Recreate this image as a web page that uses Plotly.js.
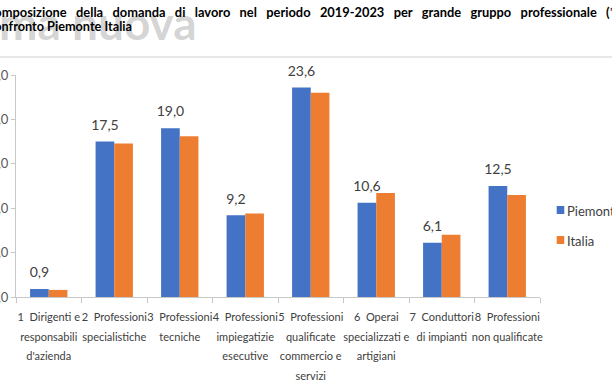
<!DOCTYPE html>
<html>
<head>
<meta charset="utf-8">
<script src="https://cdn.plot.ly/plotly-3.0.1.min.js"></script>
<style>html,body{margin:0;padding:0;background:#fff}#chart{width:612px;height:390px}</style>
</head>
<body>
<div id="chart"></div>
<script>
// ---- data ----
var categoryLines = [
  ["1\u00a0\u00a0Dirigenti e", "responsabili", "d'azienda"],
  ["2\u00a0\u00a0Professioni", "specialistiche"],
  ["3\u00a0\u00a0Professioni", "tecniche"],
  ["4\u00a0\u00a0Professioni", "impiegatizie", "esecutive"],
  ["5\u00a0\u00a0Professioni", "qualificate", "commercio e", "servizi"],
  ["6\u00a0\u00a0Operai", "specializzati e", "artigiani"],
  ["7\u00a0\u00a0Conduttori", "di impianti"],
  ["8\u00a0\u00a0Professioni", "non qualificate"]
];
var seriesNames = ["Piemonte", "Italia"];
var seriesColors = ["#4472C4", "#ED7D31"];
var piemonte = [0.9, 17.5, 19.0, 9.2, 23.6, 10.6, 6.1, 12.5];
var italia   = [0.8, 17.3, 18.1, 9.4, 23.0, 11.7, 7.0, 11.5];
var yTicks = [0, 5, 10, 15, 20, 25];
var titleLine1 = "Composizione della domanda di lavoro nel periodo 2019-2023 per grande gruppo professionale (*)";
var titleLine2 = "Confronto Piemonte Italia";
var watermark = "Prima nuova";

// ---- geometry helpers (plot area: x 16..540, y 75..297 px) ----
var ML = 16, MR = 72, MT = 75, MB = 93, W = 612, H = 390;
var PW = W - ML - MR, PH = H - MT - MB;
function px2x(px) { return (px - ML) / PW; }
function px2y(py) { return (H - MB - py) / PH; }

var FONT = "Lato, Liberation Sans, sans-serif";
var cats = categoryLines.map(function (l) { return l.join("<br>"); });
var tickText = categoryLines.map(function (l) {
  return l.map(function (s) { return '<span style="font-size:11px">' + s + '</span>'; }).join("<br>");
});

var traces = [
  {
    type: "bar", name: seriesNames[0], x: cats, y: piemonte,
    marker: {color: seriesColors[0]},
    texttemplate: '<span style="font-size:14px">%{y:.1f}</span><br>\u00a0',
    textposition: "outside", cliponaxis: false, constraintext: "none",
    textfont: {family: FONT, size: 6, color: "#404040"},
    hoverinfo: "skip"
  },
  {
    type: "bar", name: seriesNames[1], x: cats, y: italia,
    marker: {color: seriesColors[1]},
    hoverinfo: "skip"
  }
];

// legend drawn at the right edge like the original
var legendRows = [210, 240];
var legendShapes = seriesNames.map(function (n, i) {
  return {type: "rect", xref: "paper", yref: "paper",
    x0: px2x(556.7), x1: px2x(564.3), y0: px2y(legendRows[i] + 4), y1: px2y(legendRows[i] - 4),
    fillcolor: seriesColors[i], line: {width: 0}};
});
var legendTexts = seriesNames.map(function (n, i) {
  return {text: n, xref: "paper", yref: "paper", x: px2x(565), y: px2y(legendRows[i] + 1),
    xanchor: "left", yanchor: "middle", showarrow: false,
    font: {family: FONT, size: 13, color: "#404040"}};
});

var layout = {
  width: W, height: H,
  margin: {l: ML, r: MR, t: MT, b: MB, pad: 0},
  paper_bgcolor: "#ffffff", plot_bgcolor: "#ffffff",
  separators: ",.",
  barmode: "group", bargap: 0.43, bargroupgap: 0,
  font: {family: FONT, color: "#404040"},
  showlegend: false,
  xaxis: {
    type: "category", tickvals: cats, ticktext: tickText, tickangle: 0,
    tickson: "boundaries", ticks: "outside", ticklen: 5, tickcolor: "#c8c8c8",
    showline: true, linecolor: "#c8c8c8", linewidth: 1,
    showgrid: false, zeroline: false, ticklabelstandoff: 5,
    tickfont: {family: FONT, size: 15, color: "#404040"},
    fixedrange: true
  },
  yaxis: {
    range: [0, 25], tickvals: yTicks, tickformat: ".1f",
    ticks: "outside", ticklen: 4, tickcolor: "#c8c8c8",
    showline: true, linecolor: "#c8c8c8", linewidth: 1,
    showgrid: false, zeroline: false,
    tickfont: {family: FONT, size: 13, color: "#595959"},
    fixedrange: true
  },
  shapes: [
    {type: "line", xref: "paper", yref: "paper", x0: px2x(-5), x1: px2x(620), y0: px2y(57), y1: px2y(57),
     line: {color: "#d0d0d0", width: 1}}
  ].concat(legendShapes),
  annotations: [
    {text: "<b>" + watermark + "</b>", xref: "paper", yref: "paper", x: px2x(199), y: px2y(22),
     xanchor: "right", yanchor: "middle", showarrow: false,
     font: {family: FONT, size: 46, color: "rgba(160,160,160,0.45)"}},
    {text: "<b>" + titleLine1.split(" ").join(" \u00a0\u00a0") + "</b>", xref: "paper", yref: "paper",
     x: px2x(-16), y: px2y(12), xanchor: "left", yanchor: "middle", showarrow: false,
     font: {family: FONT, size: 12.85, color: "#000000"}},
    {text: "<b>" + titleLine2 + "</b>", xref: "paper", yref: "paper",
     x: px2x(-16), y: px2y(26), xanchor: "left", yanchor: "middle", showarrow: false,
     font: {family: FONT, size: 12.7, color: "#000000"}}
  ].concat(legendTexts)
};

Plotly.newPlot("chart", traces, layout, {staticPlot: true, displayModeBar: false});
</script>
</body>
</html>
